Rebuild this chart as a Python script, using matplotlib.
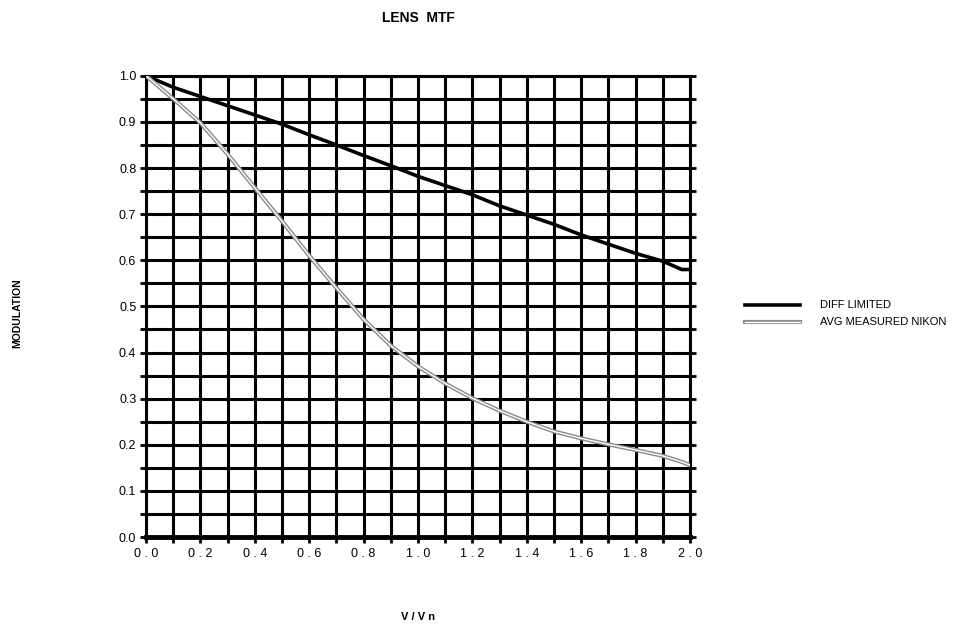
import numpy as np
import matplotlib
matplotlib.use("Agg")
import matplotlib.pyplot as plt

plt.rcParams['font.family'] = ['Liberation Sans', 'DejaVu Sans']

# spatial frequency, normalised to Nyquist
freq = [0.0, 0.1, 0.2, 0.3, 0.4, 0.5, 0.6, 0.7, 0.8, 0.9, 1.0,
        1.1, 1.2, 1.3, 1.4, 1.5, 1.6, 1.7, 1.8, 1.9, 1.97, 2.0]

diff_limited = [1.0, 0.975, 0.955, 0.935, 0.915, 0.895, 0.872, 0.85, 0.827, 0.805, 0.782,
                0.762, 0.742, 0.718, 0.698, 0.678, 0.655, 0.635, 0.615, 0.598, 0.58, 0.58]

avg_nikon = [1.0, 0.95, 0.898, 0.83, 0.757, 0.685, 0.61, 0.54, 0.472, 0.415, 0.37,
             0.333, 0.301, 0.274, 0.25, 0.229, 0.214, 0.201, 0.189, 0.176, 0.163, 0.156]

x_ticks = [0.0, 0.2, 0.4, 0.6, 0.8, 1.0, 1.2, 1.4, 1.6, 1.8, 2.0]
x_labels = ['0.0', '0.2', '0.4', '0.6', '0.8', '1.0', '1.2', '1.4', '1.6', '1.8', '2.0']
y_ticks = [0.0, 0.1, 0.2, 0.3, 0.4, 0.5, 0.6, 0.7, 0.8, 0.9, 1.0]
y_labels = ['0.0', '0.1', '0.2', '0.3', '0.4', '0.5', '0.6', '0.7', '0.8', '0.9', '1.0']

fig = plt.figure(figsize=(9.65, 6.26), dpi=100)
ax = fig.add_axes([0.1513, 0.142, 0.5637, 0.737])

ax.set_xlim(0, 2.0)
ax.set_ylim(0, 1.0)

# heavy grid, every 0.1 across and every 0.05 up
ax.set_xticks(x_ticks)
ax.set_xticklabels([' '.join(s) for s in x_labels], fontsize=9)
ax.set_xticks(np.arange(0, 2.01, 0.1), minor=True)
ax.set_yticks(y_ticks)
ax.set_yticklabels(y_labels, fontsize=9)
ax.set_yticks(np.arange(0, 1.01, 0.05), minor=True)
ax.grid(True, which='both', color='black', linewidth=2.2)
ax.set_axisbelow(True)
ax.tick_params(which='both', direction='out', length=4, width=2, color='black',
               right=True)
ax.tick_params(axis='x', which='both', pad=4)
ax.tick_params(axis='y', which='both', pad=3)

for side in ['top', 'right', 'left']:
    ax.spines[side].set_linewidth(2.2)
ax.spines['bottom'].set_linewidth(3.5)

ax.plot(freq, diff_limited, color='black', linewidth=2.6, zorder=5, label='DIFF LIMITED')
# measured curve drawn as a hollow line: grey outline with a white core
ax.plot(freq, avg_nikon, color='#8a8a8a', linewidth=3.0, zorder=5)
ax.plot(freq, avg_nikon, color='white', linewidth=1.0, zorder=6)

# legend drawn by hand so the hollow line shows the same way
lx0, lx1, tx = 745 / 965, 800 / 965, 820 / 965
ly1, ly2 = 1 - 305 / 626, 1 - 322 / 626
fig.lines.append(plt.Line2D([lx0, lx1], [ly1, ly1], transform=fig.transFigure,
                            color='black', linewidth=2.6))
fig.lines.append(plt.Line2D([lx0, lx1], [ly2, ly2], transform=fig.transFigure,
                            color='#8a8a8a', linewidth=3.0))
fig.lines.append(plt.Line2D([lx0, lx1], [ly2, ly2], transform=fig.transFigure,
                            color='white', linewidth=1.0))
fig.text(tx, ly1, 'DIFF LIMITED', fontsize=8, va='center', ha='left')
fig.text(tx, ly2, 'AVG MEASURED NIKON', fontsize=8, va='center', ha='left')

fig.text(418 / 965, 1 - 18 / 626, 'LENS  MTF', fontsize=10, fontweight='bold',
         ha='center', va='center')
fig.text(418 / 965, 1 - 617 / 626, 'V / V n', fontsize=8, fontweight='bold',
         ha='center', va='center')
fig.text(17 / 965, 1 - 313 / 626, 'MODULATION', fontsize=7.5, fontweight='bold',
         rotation=90, ha='center', va='center')

fig.savefig('out.png', dpi=100, facecolor='white')
